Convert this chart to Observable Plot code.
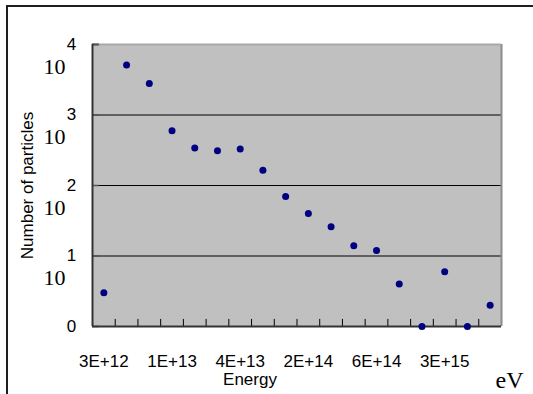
<!DOCTYPE html>
<html>
<head>
<meta charset="utf-8">
<script src="https://cdn.jsdelivr.net/npm/d3@7"></script>
<script src="https://cdn.jsdelivr.net/npm/@observablehq/plot@0.6"></script>
<style>
  html, body { margin: 0; padding: 0; background: #fff; }
  #wrap { position: relative; width: 533px; height: 394px; overflow: hidden; }
  #border { position: absolute; left: 6px; top: 5px; width: 600px; height: 500px;
            border-top: 2px solid #1e1e1e; border-left: 2px solid #1e1e1e; }
  #chart { position: absolute; left: 0; top: 0; }
  #chart text.sans { letter-spacing: 0.3px; }
</style>
</head>
<body>
<div id="wrap"><div id="border"></div><div id="chart"></div></div>
<script>
// Energy bins (category index), counts
const bins = [0, 1, 2, 3, 4, 5, 6, 7, 8, 9, 10, 11, 12, 13, 14, 15, 16, 17];
const counts = [3, 5100, 2800, 600, 340, 310, 330, 165, 70, 40, 26, 14, 12, 4, 1, 6, 1, 2];
// category labels on x axis
const energyTickBins = [0, 3, 6, 9, 12, 15];
const energyTickLabels = ["3E+12", "1E+13", "4E+13", "2E+14", "6E+14", "3E+15"];
// boundaries between categories (tick marks)
const binBoundaries = [1, 2, 3, 4, 5, 6, 7, 8, 9, 10, 11, 12, 13, 14, 15, 16, 17];
// y axis
const yTickValues = [1, 10, 100, 1000, 10000];
const yTickExponents = ["0", "1", "2", "3", "4"];
const yPowerValues = [10, 100, 1000, 10000];
const yGridValues = [10, 100, 1000];

const serif = "'Times New Roman', 'Liberation Serif', serif";
const sans = "Arial, 'Liberation Sans', sans-serif";

const chart = Plot.plot({
  width: 533,
  height: 394,
  marginLeft: 92,
  marginRight: 32,
  marginTop: 44,
  marginBottom: 68,
  style: { fontFamily: sans, fontSize: "17px", color: "#000", background: "transparent", overflow: "visible" },
  x: { type: "linear", domain: [0, 18], axis: null },
  y: { type: "log", domain: [1, 10000], axis: null },
  marks: [
    Plot.frame({ fill: "#c0c0c0", stroke: "none" }),
    Plot.ruleY(yGridValues, { stroke: "#000", strokeWidth: 1 }),
    Plot.ruleY(yTickValues, { x1: 0, x2: 0.3, stroke: "#555", strokeWidth: 1.5 }),
    Plot.ruleX(binBoundaries, { y1: 1, y2: 1.26, stroke: "#000", strokeWidth: 1 }),
    Plot.ruleX([18], { stroke: "#8c8c8c", strokeWidth: 2 }),
    Plot.ruleY([10000], { stroke: "#a8a8a8", strokeWidth: 2 }),
    Plot.ruleY([10000], { x1: 0, x2: 0.3, stroke: "#555", strokeWidth: 2 }),
    Plot.ruleX([0], { stroke: "#333", strokeWidth: 2 }),
    Plot.ruleY([1], { stroke: "#333", strokeWidth: 2 }),
    Plot.dot(bins, { x: i => i + 0.5, y: i => counts[i], r: 3.5, fill: "#000080", stroke: "none" }),
    Plot.axisX(energyTickBins.map(i => i + 0.5), {
      tickSize: 0, tickPadding: 28, fontSize: 17, className: "sans",
      tickFormat: (d, i) => energyTickLabels[i]
    }),
    Plot.text(yTickValues, {
      y: d => d, text: (d, i) => yTickExponents[i],
      frameAnchor: "left", dx: -21, textAnchor: "middle", lineAnchor: "middle",
      fontSize: 17, fontFamily: sans
    }),
    Plot.text(yPowerValues, {
      y: d => d, text: () => "10",
      frameAnchor: "left", dx: -27, dy: 22, textAnchor: "end", lineAnchor: "middle",
      fontSize: 22, fontFamily: serif
    }),
    Plot.text(["Number of particles"], {
      text: d => d, frameAnchor: "left", dx: -65, rotate: -90,
      textAnchor: "middle", lineAnchor: "middle", fontSize: 17, fontFamily: sans
    }),
    Plot.text(["Energy"], {
      text: d => d, frameAnchor: "bottom", dx: -47, dy: 53,
      textAnchor: "middle", lineAnchor: "middle", fontSize: 17, fontFamily: sans
    }),
    Plot.text(["eV"], {
      text: d => d, frameAnchor: "bottom-right", dx: 22, dy: 54,
      textAnchor: "end", lineAnchor: "middle", fontSize: 24, fontFamily: serif
    })
  ]
});
document.getElementById("chart").appendChild(chart);
</script>
</body>
</html>
